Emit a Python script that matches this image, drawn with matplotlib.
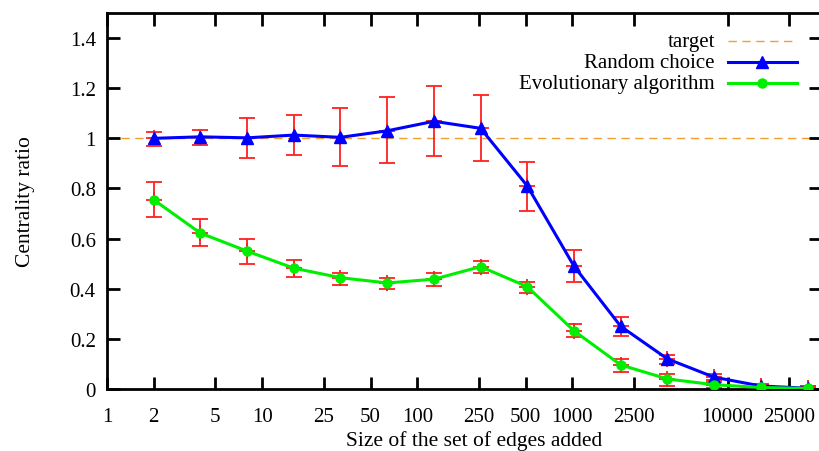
import numpy as np
import matplotlib
matplotlib.use("Agg")
import matplotlib.pyplot as plt
from matplotlib.lines import Line2D

# edge set sizes (powers of two)
sizes = [2, 4, 8, 16, 32, 64, 128, 256, 512, 1024, 2048, 4096, 8192, 16384, 32768]

random_mean = [1.000, 1.006, 1.002, 1.013, 1.004, 1.030, 1.068, 1.040, 0.810, 0.490, 0.250, 0.120, 0.047, 0.012, 0.003]
random_low = [0.970, 0.975, 0.920, 0.935, 0.890, 0.900, 0.930, 0.909, 0.712, 0.427, 0.213, 0.100, 0.035, 0.005, 0.000]
random_high = [1.027, 1.035, 1.083, 1.094, 1.120, 1.163, 1.209, 1.174, 0.906, 0.555, 0.288, 0.136, 0.060, 0.020, 0.010]

evo_mean = [0.755, 0.622, 0.550, 0.482, 0.444, 0.423, 0.438, 0.488, 0.408, 0.232, 0.096, 0.040, 0.017, 0.006, 0.002]
evo_low = [0.685, 0.570, 0.500, 0.446, 0.415, 0.400, 0.410, 0.463, 0.382, 0.207, 0.068, 0.012, 0.002, 0.000, 0.000]
evo_high = [0.825, 0.677, 0.600, 0.516, 0.462, 0.441, 0.463, 0.510, 0.428, 0.258, 0.118, 0.058, 0.028, 0.014, 0.010]

xticks = [1, 2, 5, 10, 25, 50, 100, 250, 500, 1000, 2500, 10000, 25000]
yticks = [0, 0.2, 0.4, 0.6, 0.8, 1.0, 1.2, 1.4]
ytick_labels = ["0", "0.2", "0.4", "0.6", "0.8", "1", "1.2", "1.4"]

plt.rcParams['font.family'] = ['Liberation Serif', 'DejaVu Serif']
plt.rcParams['font.size'] = 15

fig = plt.figure(figsize=(8.19, 4.52), dpi=100)
ax = fig.add_axes([0.1306, 0.1372, 0.8718, 0.8318])

ax.axhline(1.0, color='#f0a030', lw=1.0, dashes=(6, 4), zorder=1)

def err(mean, low, high):
    m = np.array(mean)
    return [m - np.array(low), np.array(high) - m]

for mean, low, high in [(random_mean, random_low, random_high), (evo_mean, evo_low, evo_high)]:
    ax.errorbar(sizes, mean, yerr=err(mean, low, high),
                fmt='+', color='#ff2020', ms=12, mew=1.3, elinewidth=1.3,
                capsize=6, capthick=1.3, zorder=2)

ax.plot(sizes, random_mean, color='#0000ff', lw=2.2, marker='^', ms=9, zorder=3)
ax.plot(sizes, evo_mean, color='#00ee00', lw=2.2, marker='o', ms=6.5, zorder=3)

ax.set_xscale('log')
ax.set_xlim(1, 40000)
ax.set_ylim(0, 1.5)
ax.set_xticks(xticks)
ax.set_xticklabels([str(t) for t in xticks])
ax.xaxis.set_minor_locator(matplotlib.ticker.NullLocator())
ax.set_yticks(yticks)
ax.set_yticklabels(ytick_labels)

ax.tick_params(direction='in', length=9, width=2, top=True, right=True, labelsize=15)
ax.tick_params(axis='x', pad=13)
ax.tick_params(axis='y', pad=8)
for s in ax.spines.values():
    s.set_linewidth(2)

# label sits right at the bottom edge, as in the original
fig.text(0.5785, 0.003, "Size of the set of edges added", ha='center', va='bottom', fontsize=15.5)
ax.set_ylabel("Centrality ratio", labelpad=25, fontsize=15.5)

# key, gnuplot style
labels = ["target", "Random choice", "Evolutionary algorithm"]
ys = [0.9255, 0.8697, 0.8138]
tx, x0, x1 = 0.8515, 0.8697, 0.9664
styles = [dict(color='#f0a030', lw=1.0, dashes=(6, 4)),
          dict(color='#0000ff', lw=2.2),
          dict(color='#00ee00', lw=2.2)]
marks = [None, dict(marker='^', ms=9, color='#0000ff'), dict(marker='o', ms=6.5, color='#00ee00')]
for lab, y, st, mk in zip(labels, ys, styles, marks):
    ax.text(tx, y, lab, transform=ax.transAxes, ha='right', va='center')
    ax.add_line(Line2D([x0, x1], [y, y], transform=ax.transAxes, **st))
    if mk:
        ax.add_line(Line2D([(x0 + x1) / 2], [y], transform=ax.transAxes, ls='none', **mk))

fig.savefig("out.png", dpi=100)
